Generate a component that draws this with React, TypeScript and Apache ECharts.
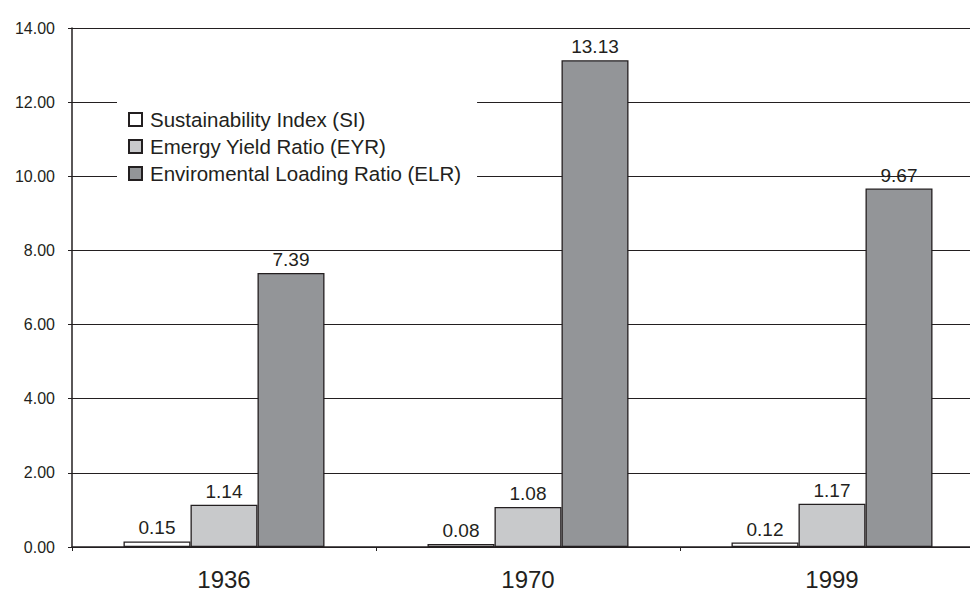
import React, { useEffect, useRef } from "react";
import * as echarts from "echarts";

const categories = ["1936", "1970", "1999"];
const siValues = [0.15, 0.08, 0.12];
const eyrValues = [1.14, 1.08, 1.17];
const elrValues = [7.39, 13.13, 9.67];
const seriesNames = [
  "Sustainability Index (SI)",
  "Emergy Yield Ratio (EYR)",
  "Enviromental Loading Ratio (ELR)",
];

const FONT = "'Liberation Sans', Arial, sans-serif";
const INK = "#231f20";

export default function App() {
  const ref = useRef<HTMLDivElement>(null);
  useEffect(() => {
    if (!ref.current) return;
    const chart = echarts.init(ref.current, undefined, { renderer: "svg" });
    const mk = (name: string, data: number[], color: string) => ({
      name,
      type: "bar",
      data,
      barWidth: 67,
      barGap: "0%",
      itemStyle: { color, borderColor: INK, borderWidth: 1.3 },
      label: {
        show: true,
        position: "top",
        distance: 4,
        formatter: (p: any) => Number(p.value).toFixed(2),
        fontFamily: FONT,
        fontSize: 19,
        color: INK,
      },
    });
    chart.setOption({
      animation: false,
      backgroundColor: "#ffffff",
      textStyle: { fontFamily: FONT },
      grid: { left: 72, right: 16, top: 28, bottom: 43, containLabel: false },
      legend: {
        orient: "vertical",
        left: 117,
        top: 95,
        padding: [14, 16, 8, 11],
        backgroundColor: "#ffffff",
        itemWidth: 13,
        itemHeight: 13,
        itemGap: 6,
        icon: "rect",
        data: seriesNames,
        textStyle: {
          fontFamily: FONT,
          fontSize: 20.5,
          color: INK,
          padding: [0, 0, 0, 3],
        },
      },
      xAxis: {
        type: "category",
        data: categories,
        axisLine: { lineStyle: { color: INK, width: 1.5 } },
        axisTick: { show: true, length: 4, lineStyle: { color: INK } },
        axisLabel: { fontFamily: FONT, fontSize: 24, color: INK, margin: 20 },
      },
      yAxis: {
        type: "value",
        min: 0,
        max: 14,
        interval: 2,
        axisLine: { show: true, lineStyle: { color: INK, width: 1.5 } },
        axisTick: { show: true, length: 4, lineStyle: { color: INK } },
        splitLine: { show: true, lineStyle: { color: INK, width: 1 } },
        axisLabel: {
          fontFamily: FONT,
          fontSize: 16,
          color: INK,
          margin: 17,
          formatter: (v: number) => v.toFixed(2),
        },
      },
      series: [
        mk(seriesNames[0], siValues, "#ffffff"),
        mk(seriesNames[1], eyrValues, "#c8c9cb"),
        mk(seriesNames[2], elrValues, "#939598"),
      ],
    });
    return () => chart.dispose();
  }, []);
  return (
    <div
      style={{
        position: "fixed",
        left: 0,
        top: 0,
        width: 970,
        height: 591,
        overflow: "hidden",
        background: "#fff",
      }}
    >
      <div ref={ref} style={{ width: 1000, height: 591 }} />
    </div>
  );
}
